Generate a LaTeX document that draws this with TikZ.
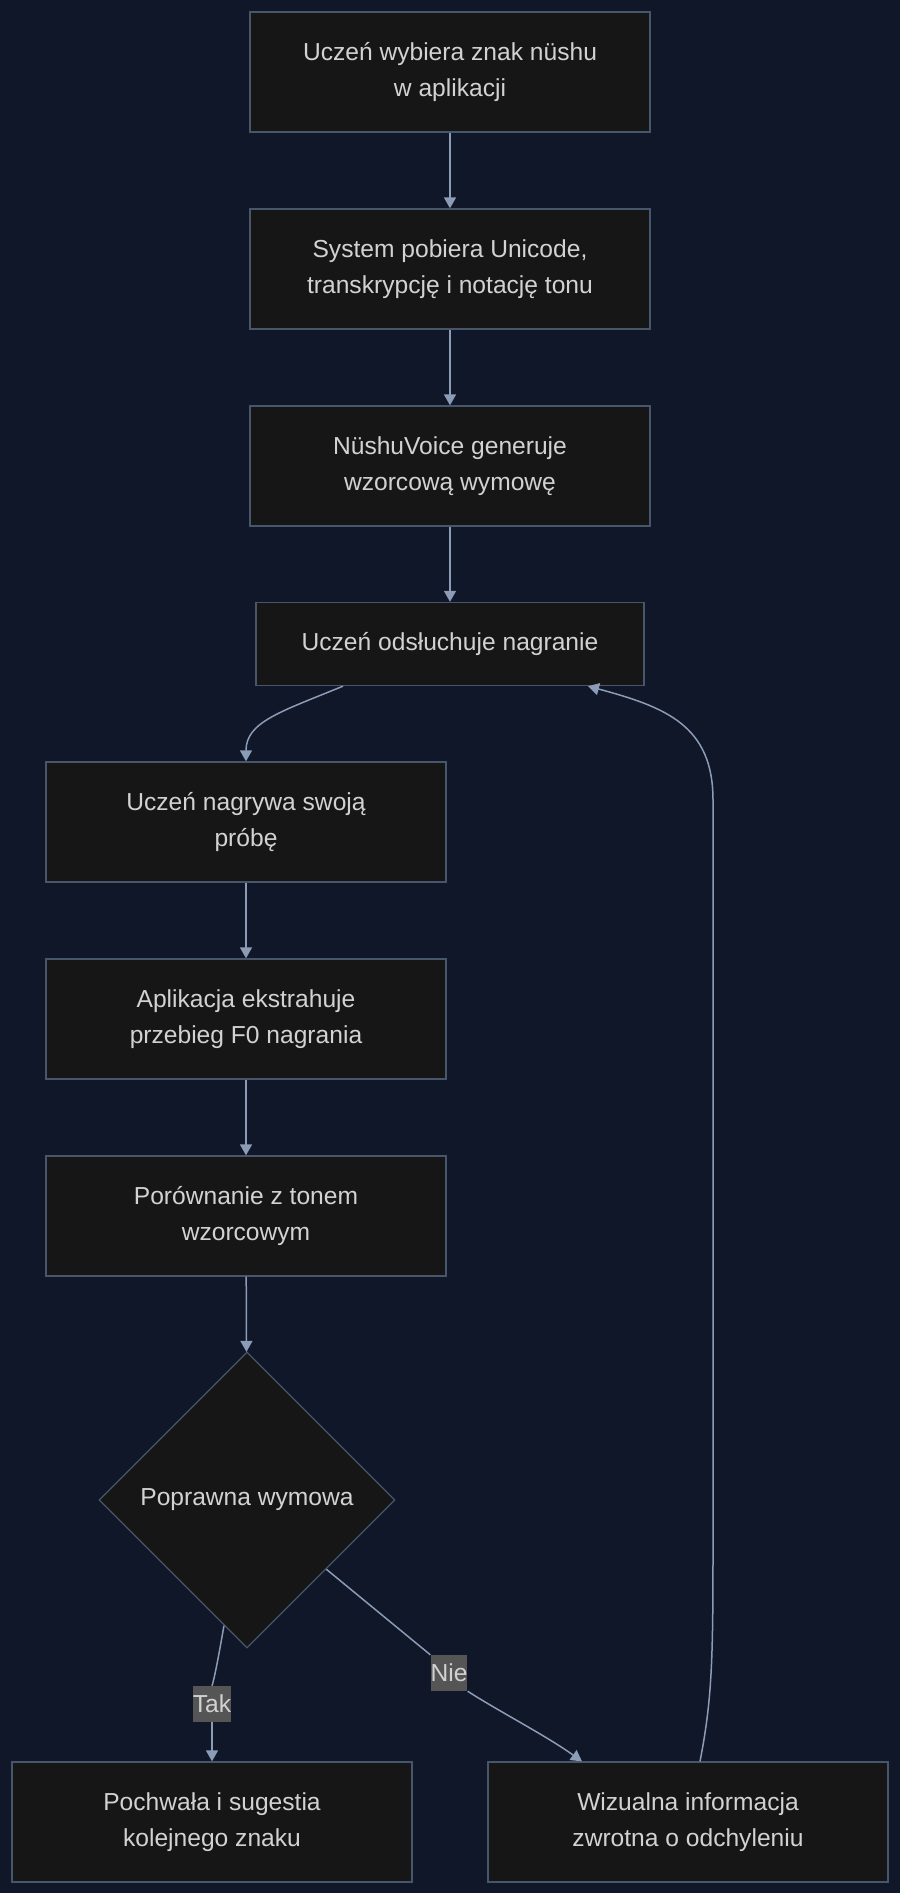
\documentclass[tikz,border=0pt]{standalone}
\usepackage{fontspec}
\setmainfont{Liberation Sans}
\usetikzlibrary{arrows.meta,shapes.geometric,calc}
\definecolor{bgc}{RGB}{15,23,41}
\definecolor{boxc}{RGB}{22,22,22}
\definecolor{brd}{RGB}{72,86,108}
\definecolor{txt}{RGB}{210,210,210}
\definecolor{edg}{RGB}{140,156,182}
\definecolor{lbl}{RGB}{85,85,85}
\tikzset{
  stepbox/.style={draw=brd, line width=1.3pt, fill=boxc, text=txt, minimum width=400pt, minimum height=120pt, align=center, inner sep=0pt, font=\fontsize{24.6}{36}\selectfont},
  decide/.style={diamond, draw=brd, line width=1.3pt, fill=boxc, text=txt, minimum width=296pt, minimum height=296pt, inner sep=0pt, font=\fontsize{24.6}{36}\selectfont},
  conn/.style={draw=edg, line width=1.5pt, -{Triangle[length=11pt,width=12pt]}},
  elabel/.style={fill=lbl, text=txt, inner xsep=0pt, inner ysep=0pt, minimum height=36pt, font=\fontsize{24.6}{36}\selectfont}
}
\begin{document}
\begin{tikzpicture}[x=1pt,y=-1pt]
\useasboundingbox (0,0) rectangle (900,1893);
\fill[bgc] (0,0) rectangle (900,1893);
\node[stepbox] (b1) at (450,72) {Uczeń wybiera znak nüshu\\w aplikacji};
\node[stepbox] (b2) at (450,269) {System pobiera Unicode,\\transkrypcję i notację tonu};
\node[stepbox] (b3) at (450,466) {NüshuVoice generuje\\wzorcową wymowę};
\node[stepbox, minimum width=388pt, minimum height=83pt] (b4) at (450,644) {Uczeń odsłuchuje nagranie};
\node[stepbox] (b5) at (246,822) {Uczeń nagrywa swoją\\próbę};
\node[stepbox] (b6) at (246,1019) {Aplikacja ekstrahuje\\przebieg F0 nagrania};
\node[stepbox] (b7) at (246,1216) {Porównanie z tonem\\wzorcowym};
\node[decide] (d) at (247,1500) {Poprawna wymowa};
\node[stepbox] (b9) at (212,1822) {Pochwała i sugestia\\kolejnego znaku};
\node[stepbox] (b10) at (688,1822) {Wizualna informacja\\zwrotna o odchyleniu};

\draw[conn] (b1) -- (b2);
\draw[conn] (b2) -- (b3);
\draw[conn] (b3) -- (b4);
\coordinate (s4) at ([xshift=-107pt]b4.south);
\draw[conn] (s4) .. controls (280,712) and (246,722) .. (b5.north);
\draw[conn] (b5) -- (b6);
\draw[conn] (b6) -- (b7);
\draw[conn] (b7) -- (d);
\coordinate (dt) at ($(d.south)!0.155!(d.west)$);
\coordinate (dn) at ($(d.east)!0.466!(d.south)$);
\node[elabel] (ltak) at (212,1704) {Tak};
\node[elabel] (lnie) at (449,1673) {Nie};
\draw[draw=edg, line width=1.5pt] (dt) .. controls (218,1660) and (214,1680) .. (ltak.north);
\draw[conn] (ltak.south) -- (b9.north);
\draw[draw=edg, line width=1.5pt] (dn) -- (lnie.north west);
\coordinate (t10) at ([xshift=-106pt]b10.north);
\draw[conn] (lnie.south east) .. controls (500,1712) and (545,1735) .. (t10);
\coordinate (s10) at ([xshift=12pt]b10.north);
\coordinate (e4) at ([xshift=138pt]b4.south);
\draw[conn] (s10) .. controls (712,1700) and (713,1660) .. (713,1550) -- (713,800) .. controls (713,725) and (665,707) .. (e4);
\end{tikzpicture}
\end{document}
